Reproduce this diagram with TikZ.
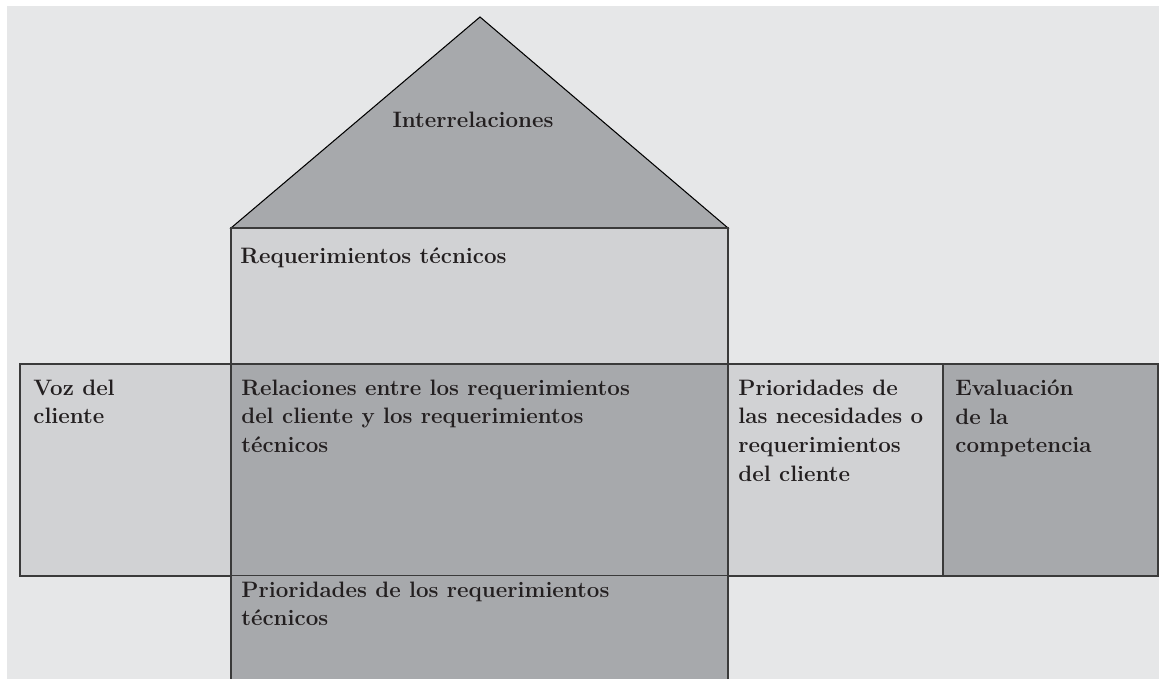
\documentclass[tikz,border=0pt]{standalone}
\usepackage{tikz}
\definecolor{fondo}{HTML}{E6E7E8}
\definecolor{claro}{HTML}{D1D2D4}
\definecolor{oscuro}{HTML}{A7A9AC}
\definecolor{linea}{HTML}{3A3A3A}
\definecolor{texto}{HTML}{231F20}

\begin{document}
\begin{tikzpicture}[x=0.02cm,y=-0.02cm,
    caja/.style={draw=linea,line width=0.8pt},
    rotulo/.style={anchor=north west,inner sep=0pt,align=left,text=texto,
      font=\bfseries\fontsize{12.7}{16.3}\selectfont}]
    \useasboundingbox (0,0) rectangle (1159,679);
    \fill[white] (0,0) rectangle (1159,679);
    \fill[fondo] (7,6) rectangle (1159,679);
    \filldraw[fill=oscuro,draw=black,line width=0.6pt] (231,228) -- (480,17) -- (728,228) -- cycle;
    \filldraw[caja,fill=claro] (231,228) rectangle (728,364);
    \filldraw[caja,fill=claro] (20,364) rectangle (231,576);
    \filldraw[caja,fill=oscuro] (231,364) rectangle (728,576);
    \filldraw[caja,fill=claro] (728,364) rectangle (943,576);
    \filldraw[caja,fill=oscuro] (943,364) rectangle (1158,576);
    \fill[oscuro] (231,576) rectangle (728,679);
    \draw[caja] (231,576) -- (231,679) (728,576) -- (728,679);
    \node[rotulo,anchor=base] (inter) at (473,128) {Interrelaciones};
    \node[rotulo] (reqtec) at (240,247.5) {Requerimientos técnicos};
    \node[rotulo] (voz) at (33,379.5) {Voz del\\cliente};
    \node[rotulo] (rel) at (241,379.5) {Relaciones entre los requerimientos\\del cliente y los requerimientos\\técnicos};
    \node[rotulo] (prinec) at (738,379.5) {Prioridades de\\las necesidades o\\requerimientos\\del cliente};
    \node[rotulo] (evalc) at (955,379.5) {Evaluación\\de la\\competencia};
    \node[rotulo] (pritec) at (241,581.5) {Prioridades de los requerimientos\\técnicos};
\end{tikzpicture}
\end{document}
